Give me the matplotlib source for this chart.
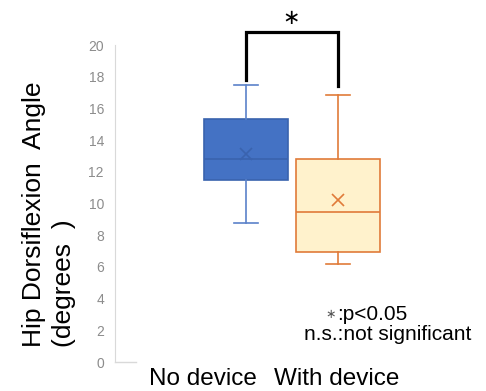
import matplotlib.pyplot as plt
from matplotlib.lines import Line2D

plt.rcParams['font.family'] = ['Liberation Sans', 'DejaVu Sans']

groups = ['No device', 'With device']
whislo = [8.8, 6.2]
q1 = [11.5, 6.95]
med = [12.8, 9.45]
q3 = [15.3, 12.8]
whishi = [17.5, 16.85]
means = [13.1, 10.25]
yticks = [0, 2, 4, 6, 8, 10, 12, 14, 16, 18, 20]

fill_cols = ['#4472C4', '#FFF2CC']
edge_cols = ['#3A63AE', '#E07B39']
whisk_cols = ['#5B82C9', '#E07B39']

W, H = 486, 391
fig = plt.figure(figsize=(W / 100, H / 100), dpi=100)
ax = fig.add_axes([115 / W, (H - 362) / H, 360 / W, 317 / H])

stats = []
for i in range(2):
    stats.append(dict(med=med[i], q1=q1[i], q3=q3[i], whislo=whislo[i],
                      whishi=whishi[i], mean=means[i], fliers=[]))

for i in range(2):
    ax.bxp([stats[i]], positions=[i + 1], widths=0.913, patch_artist=True,
           showmeans=True, showfliers=False,
           boxprops=dict(facecolor=fill_cols[i], edgecolor=edge_cols[i], linewidth=1.2),
           medianprops=dict(color=edge_cols[i], linewidth=1.2),
           whiskerprops=dict(color=whisk_cols[i], linewidth=1.2),
           capprops=dict(color=whisk_cols[i], linewidth=1.2),
           capwidths=0.26,
           meanprops=dict(marker='x', markeredgecolor=edge_cols[i], markersize=8,
                          markeredgewidth=1.2))

ax.set_xlim(1 - 131 / 92, 2 + 137 / 92)
ax.set_ylim(0, 20)
ax.set_yticks(yticks)
ax.set_xticks([])
ax.tick_params(axis='y', length=0, labelsize=10, labelcolor='#8C8C8C', pad=8)
for s in ['top', 'right', 'bottom']:
    ax.spines[s].set_visible(False)
ax.spines['left'].set_color('#D9D9D9')
ax.add_line(Line2D([ax.get_xlim()[0], ax.get_xlim()[0] + 21 / 92], [0, 0],
                   color='#D9D9D9', linewidth=1, clip_on=False))

# significance bracket
ax.plot([1, 1, 2, 2], [17.8, 20.8, 20.8, 17.4], color='black', linewidth=2.3,
        clip_on=False, solid_joinstyle='miter')
fig.text(290 / W, 1 - 19 / H, '$\\ast$', fontsize=15, ha='center', va='center')

# category labels
fig.text(203 / W, 1 - 379 / H, groups[0], fontsize=17.5, ha='center', va='center')
fig.text(337 / W, 1 - 379 / H, groups[1], fontsize=17.5, ha='center', va='center')

fig.text(34 / W, 1 - 347 / H, 'Hip Dorsiflexion  Angle', fontsize=19, rotation=90,
         rotation_mode='anchor', ha='left', va='center')
fig.text(64 / W, 1 - 347 / H, '(degrees  )', fontsize=19, rotation=90,
         rotation_mode='anchor', ha='left', va='center')

fig.text(336 / W, 1 - 315 / H, '$\\ast$', fontsize=9, ha='right', va='center',
         color='#555555')
fig.text(337 / W, 1 - 315 / H, ':p<0.05', fontsize=15, ha='left', va='center')
fig.text(304 / W, 1 - 335 / H, 'n.s.:not significant', fontsize=15, ha='left', va='center')

fig.savefig('out.png', dpi=100)
